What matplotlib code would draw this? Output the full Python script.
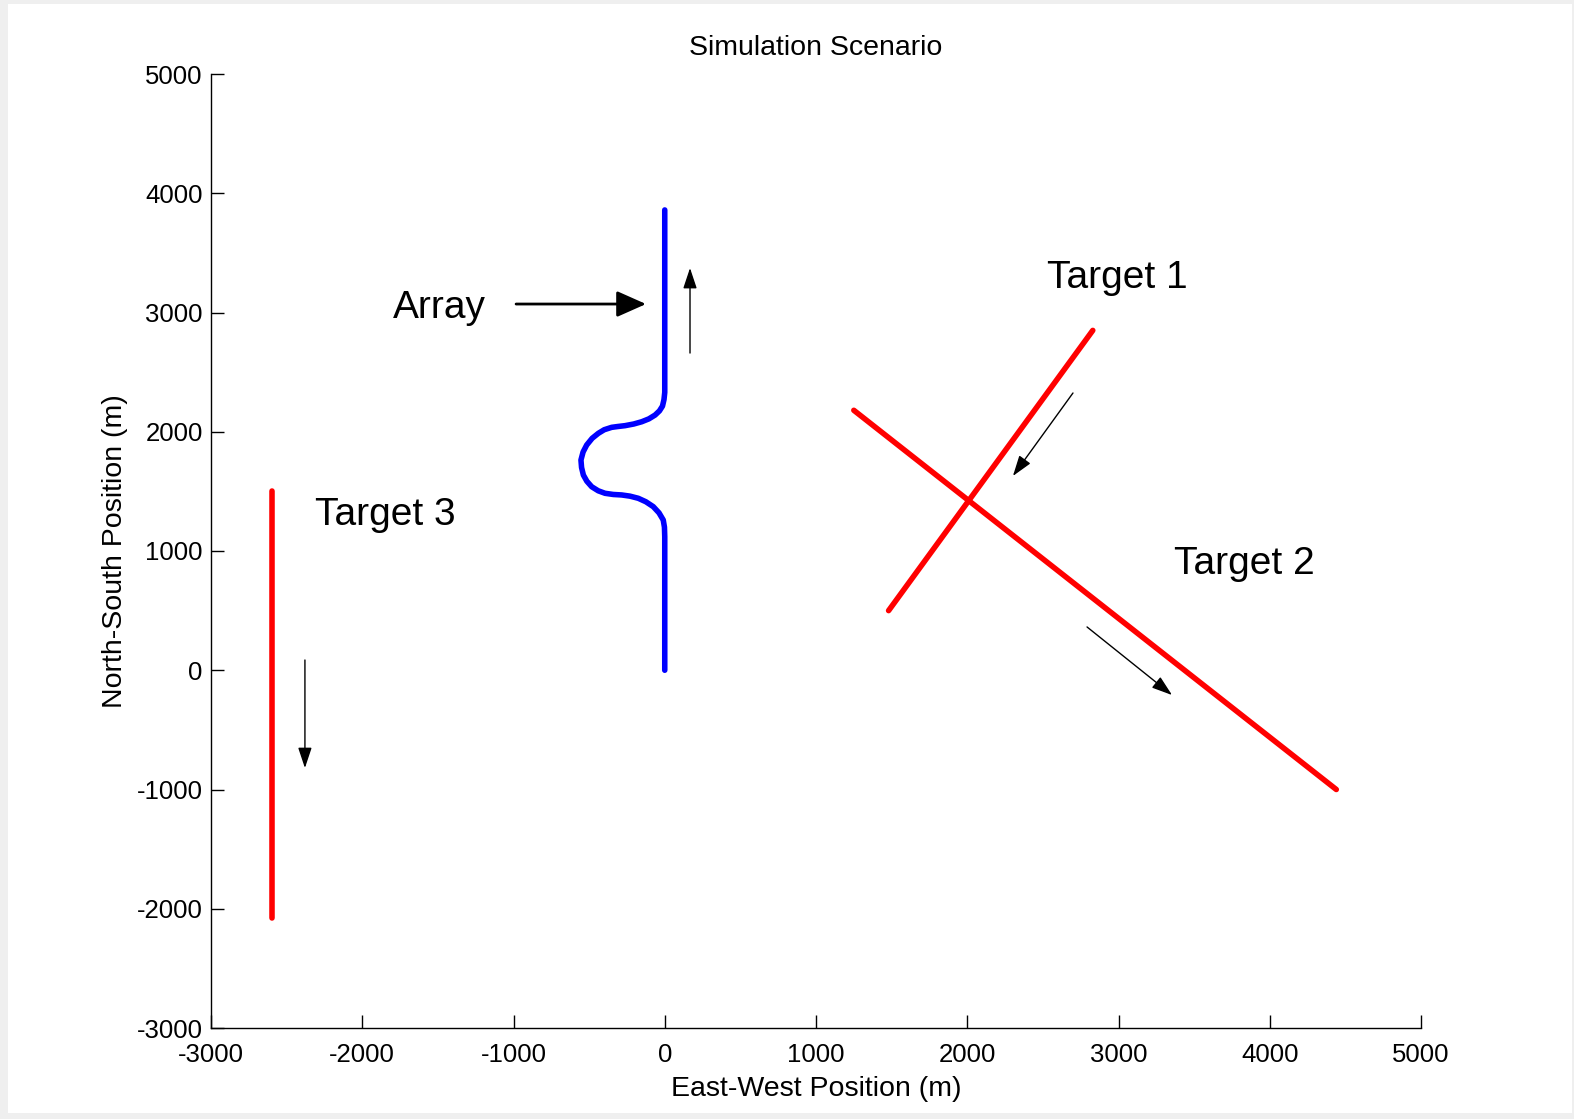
import matplotlib
matplotlib.use("Agg")
import matplotlib.pyplot as plt
from matplotlib.patches import Rectangle

plt.rcParams['font.family'] = ['Liberation Sans', 'DejaVu Sans']
plt.rcParams['axes.unicode_minus'] = False

# Array track (S-shaped manoeuvre)
array_x = [0, 0, -2, -10, -38, -76, -125, -175, -230, -285, -340, -395, -440,
           -483, -515, -538, -550, -554, -540, -516, -480, -439, -400, -351,
           -310, -263, -205, -152, -105, -64, -35, -15, -5, 0, 0]
array_y = [0, 1120, 1200, 1260, 1320, 1372, 1413, 1442, 1460, 1470, 1474, 1484,
           1505, 1539, 1585, 1637, 1700, 1763, 1830, 1889, 1945, 1987, 2017,
           2037, 2044, 2051, 2065, 2084, 2108, 2140, 2175, 2215, 2270, 2330, 3860]

# Targets (start/end)
t1_x = [2830, 1480]
t1_y = [2850, 500]
t2_x = [1250, 4440]
t2_y = [2180, -1000]
t3_x = [-2600, -2600]
t3_y = [1500, -2080]

# direction arrows: (x_tail, y_tail, x_head, y_head)
arrow_array = (167, 2660, 167, 3373)
arrow_t1 = (2699, 2325, 2302, 1629)
arrow_t2 = (2792, 363, 3354, -208)
arrow_t3 = (-2379, 86, -2379, -820)
pointer_array = (-983, 3071, -124, 3071)

labels = [("Array", -1795, 3040), ("Target 1", 2525, 3290),
          ("Target 2", 3370, 895), ("Target 3", -2312, 1300)]

xticks = [-3000, -2000, -1000, 0, 1000, 2000, 3000, 4000, 5000]
yticks = [-3000, -2000, -1000, 0, 1000, 2000, 3000, 4000, 5000]

fig = plt.figure(figsize=(15.74, 11.19), dpi=100, facecolor='#efefef')
fig.patches.append(Rectangle((8/1574, 6/1119), (1572-8)/1574, (1117-8)/1119,
                             transform=fig.transFigure, facecolor='white',
                             edgecolor='none', zorder=-1))
ax = fig.add_axes([211/1574, 91/1119, 1210/1574, 954/1119])
ax.set_facecolor('none')

lw = 4.0
ax.plot(array_x, array_y, color='#0000ff', lw=lw, solid_capstyle='round',
        solid_joinstyle='round')
for xs, ys in [(t1_x, t1_y), (t2_x, t2_y), (t3_x, t3_y)]:
    ax.plot(xs, ys, color='#ff0000', lw=lw, solid_capstyle='round')

for a in [arrow_array, arrow_t1, arrow_t2, arrow_t3]:
    ax.annotate('', xy=(a[2], a[3]), xytext=(a[0], a[1]),
                arrowprops=dict(arrowstyle='-|>,head_length=0.9,head_width=0.3',
                                lw=1.0, color='black', mutation_scale=14,
                                shrinkA=0, shrinkB=0))
ax.annotate('', xy=(pointer_array[2], pointer_array[3]),
            xytext=(pointer_array[0], pointer_array[1]),
            arrowprops=dict(arrowstyle='-|>,head_length=0.9,head_width=0.4',
                            lw=2.0, color='black', mutation_scale=20,
                            shrinkA=0, shrinkB=0))

for txt, x, y in labels:
    ax.text(x, y, txt, fontsize=28, ha='left', va='center', color='black')

ax.set_xlim(-3000, 5000)
ax.set_ylim(-3000, 5000)
ax.set_xticks(xticks)
ax.set_yticks(yticks)
ax.spines['top'].set_visible(False)
ax.spines['right'].set_visible(False)
for s in ['left', 'bottom']:
    ax.spines[s].set_linewidth(1.0)
ax.tick_params(direction='in', length=9.5, width=1.0, labelsize=18.5)
ax.tick_params(axis='x', pad=11)
ax.tick_params(axis='y', pad=6)
ax.set_title('Simulation Scenario', fontsize=20.5, pad=14)
ax.set_xlabel('East-West Position (m)', fontsize=20.5, labelpad=6)
ax.set_ylabel('North-South Position (m)', fontsize=20.5, labelpad=6)

fig.savefig('out.png', dpi=100, facecolor=fig.get_facecolor())
